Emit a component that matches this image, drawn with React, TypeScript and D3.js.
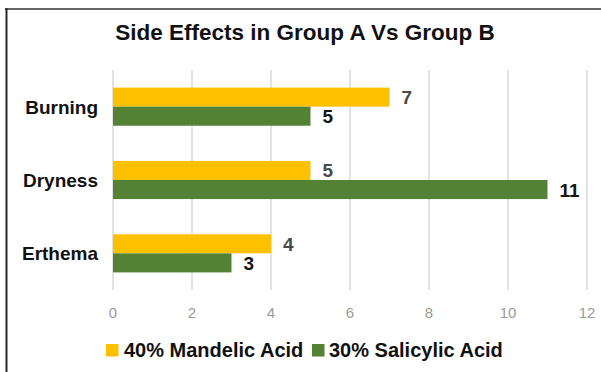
import React from "react";
import * as d3 from "d3";

const categories = ["Burning", "Dryness", "Erthema"];
const seriesNames = ["40% Mandelic Acid", "30% Salicylic Acid"];
const mandelic = [7, 5, 4];
const salicylic = [5, 11, 3];
const xTicks = [0, 2, 4, 6, 8, 10, 12];
const title = "Side Effects in Group A Vs Group B";

const colors = ["#FFC000", "#548235"];
const labelColors = ["#4a4a4a", "#151515"];
const FONT = "'Liberation Sans', Arial, Helvetica, sans-serif";

export default function App() {
  const W = 601, H = 372;
  const x = d3.scaleLinear().domain([0, 12]).range([113, 587]);
  const y = d3.scaleBand<string>().domain(categories).range([70, 290]).paddingInner(0.48).paddingOuter(0.24);
  const inner = d3.scaleBand<number>().domain([0, 1]).range([0, y.bandwidth()]);
  const series = [mandelic, salicylic];

  return (
    <svg width={W} height={H} style={{ position: "absolute", left: 0, top: 0, background: "#fff" }} fontFamily={FONT}>
      <rect x={0} y={0} width={W} height={H} fill="#fff" />
      <line x1={5} x2={W} y1={9} y2={9} stroke="#666" strokeWidth={2} />
      <line x1={6.5} x2={6.5} y1={8} y2={H} stroke="#2a2a2a" strokeWidth={2} />
      <text x={305} y={40} textAnchor="middle" fontSize={22.5} fontWeight="bold" fill="#111">{title}</text>
      {xTicks.map(t => (
        <g key={t}>
          <line x1={x(t)} x2={x(t)} y1={70} y2={290} stroke="#d9d9d9" strokeWidth={1.5} />
          <text x={x(t)} y={318} textAnchor="middle" fontSize={15} fill="#9a9a9a">{t}</text>
        </g>
      ))}
      {categories.map((c, i) => (
        <g key={c}>
          <text x={98} y={(y(c) as number) + y.bandwidth() / 2 + 7} textAnchor="end" fontSize={19} fontWeight="bold" fill="#111">{c}</text>
          {series.map((s, si) => {
            const by = (y(c) as number) + (inner(si) as number);
            return (
              <g key={si}>
                <rect x={x(0)} y={by} width={x(s[i]) - x(0)} height={inner.bandwidth()} fill={colors[si]} />
                <text x={x(s[i]) + 12} y={by + inner.bandwidth() / 2 + 7} fontSize={19} fontWeight="bold" fill={labelColors[si]}>{s[i]}</text>
              </g>
            );
          })}
        </g>
      ))}
      <g>
        <rect x={106} y={344} width={12.5} height={12.5} fill={colors[0]} />
        <text x={124} y={357} fontSize={20} fontWeight="bold" fill="#111">{seriesNames[0]}</text>
        <rect x={312} y={344} width={12.5} height={12.5} fill={colors[1]} />
        <text x={329} y={357} fontSize={20} fontWeight="bold" fill="#111">{seriesNames[1]}</text>
      </g>
    </svg>
  );
}
